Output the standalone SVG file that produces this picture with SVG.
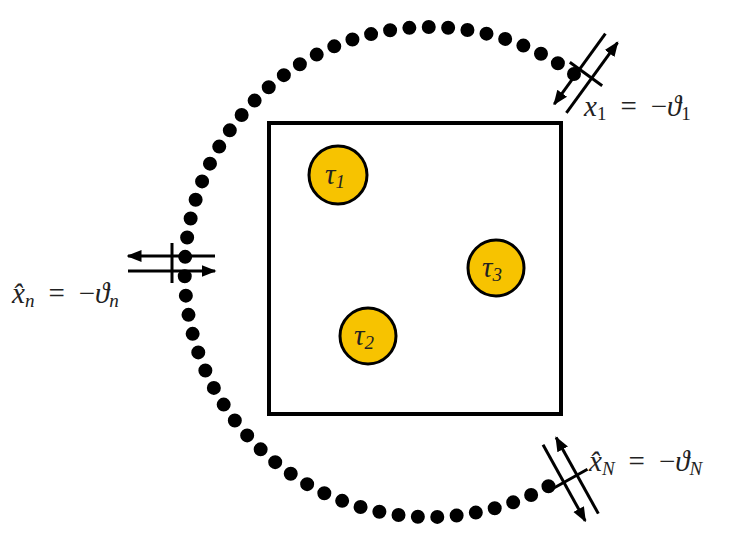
<svg xmlns="http://www.w3.org/2000/svg" width="747" height="554" viewBox="0 0 747 554">
<defs>
<marker id="ah" viewBox="0 0 10 10" refX="9" refY="5" markerWidth="5" markerHeight="5" orient="auto" markerUnits="strokeWidth"><path d="M0,1 L10,5 L0,9 Z" fill="#000"/></marker>
<g id="sym" stroke="#000" stroke-width="3" fill="none">
<line x1="43" y1="-7" x2="-44" y2="-7" marker-end="url(#ah)"/>
<line x1="-44" y1="8" x2="43" y2="8" marker-end="url(#ah)"/>
<line x1="0" y1="-20" x2="0" y2="20"/>
</g>
</defs>
<style>
.t{font-family:"Liberation Serif",serif;font-style:italic;font-size:29px;fill:#222}
.s{font-size:19px}
.o{font-style:normal}
.c{fill:#F7C300;stroke:#000;stroke-width:3}
</style>
<rect width="747" height="554" fill="#fff"/>
<g id="connectors">
<path d="M574,74 A245,245 0 1 0 549,486" fill="none" stroke="#000" stroke-width="14" stroke-linecap="round" stroke-dasharray="0 19.4"/>
<use href="#sym" transform="translate(172,263)"/>
<use href="#sym" transform="translate(586,74) rotate(126)"/>
<use href="#sym" transform="translate(570,479) rotate(-119)"/>
</g>
<g id="box"><rect x="269" y="123" width="292" height="291" fill="none" stroke="#000" stroke-width="4"/></g>
<g id="tau1"><circle class="c" cx="338" cy="175" r="29"/><text class="t" x="325" y="184">τ<tspan class="s" dy="4">1</tspan></text></g>
<g id="tau3"><circle class="c" cx="496" cy="268" r="28"/><text class="t" x="482" y="277">τ<tspan class="s" dy="4">3</tspan></text></g>
<g id="tau2"><circle class="c" cx="368" cy="336" r="28"/><text class="t" x="354" y="345">τ<tspan class="s" dy="4">2</tspan></text></g>
<g id="lab1"><text class="t" x="584" y="116">x<tspan class="s o" dy="4">1</tspan><tspan class="o" dy="-4" dx="14">=</tspan><tspan class="o" dx="14">−</tspan>ϑ<tspan class="s o" dy="4">1</tspan></text></g>
<g id="labn"><text class="t" x="12" y="303">x̂<tspan class="s" dy="4">n</tspan><tspan class="o" dy="-4" dx="14">=</tspan><tspan class="o" dx="14">−</tspan>ϑ<tspan class="s" dy="4">n</tspan></text></g>
<g id="labN"><text class="t" x="589" y="471">x̂<tspan class="s" dy="4">N</tspan><tspan class="o" dy="-4" dx="14">=</tspan><tspan class="o" dx="14">−</tspan>ϑ<tspan class="s" dy="4">N</tspan></text></g>
</svg>
